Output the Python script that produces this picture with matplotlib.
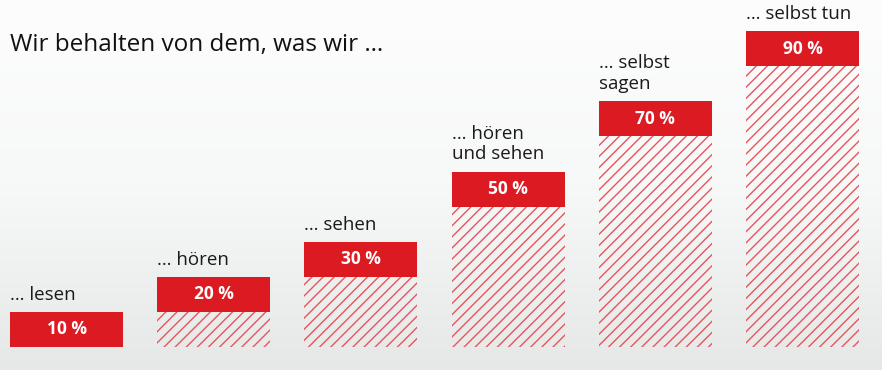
import matplotlib
matplotlib.use("Agg")
import matplotlib.pyplot as plt
import numpy as np
from matplotlib.colors import LinearSegmentedColormap

labels = ["… lesen", "… hören", "… sehen", "… hören\nund sehen", "… selbst\nsagen", "… selbst tun"]
values = [10, 20, 30, 50, 70, 90]
value_texts = ["10 %", "20 %", "30 %", "50 %", "70 %", "90 %"]
title = "Wir behalten von dem, was wir …"

RED = "#dc1a22"
plt.rcParams["font.family"] = ["Open Sans", "DejaVu Sans"]
plt.rcParams["hatch.linewidth"] = 1.0

fig = plt.figure(figsize=(8.82, 3.70), dpi=100, facecolor="white")

# soft background: white at top, light grey at the bottom
bg = fig.add_axes([0, 0, 1, 1])
bg.axis("off")
grad = np.linspace(0, 1, 256).reshape(-1, 1)
cmap = LinearSegmentedColormap.from_list("bg", ["#fdfdfd", "#f7f8f8", "#e6e8e8"])
bg.imshow(grad, aspect="auto", cmap=cmap, extent=[0, 1, 0, 1], origin="upper")

ax = fig.add_axes([0, 0, 1, 1])
ax.patch.set_alpha(0)
ax.set_xlim(-0.452, 5.540)
ax.set_ylim(-6.55, 98.86)
ax.axis("off")

x = range(len(values))
block = 10
w = 0.768
# hatched lower part
ax.bar(x, [v - block for v in values], width=w, bottom=0, color="none",
       edgecolor="#e8545a", hatch="///", linewidth=0)
# red top block
ax.bar(x, [block] * len(values), width=w, bottom=[v - block for v in values],
       color=RED, linewidth=0)

for i, (lab, v, vt) in enumerate(zip(labels, values, value_texts)):
    ax.text(i, v - block / 2, vt, color="white", fontsize=12.5, fontweight="bold",
            ha="center", va="center")
    ax.text(i - w / 2, v + 2.3, lab, color="#1a1a1a", fontsize=13.5,
            ha="left", va="bottom", linespacing=1.2)

fig.text(10 / 882, 1 - 45 / 370, title, fontsize=17.5, color="#111111",
         fontweight="medium", ha="left", va="center")

fig.savefig("out.png", dpi=100)
